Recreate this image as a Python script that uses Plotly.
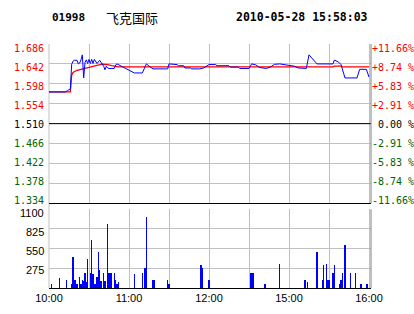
import plotly.graph_objects as go

# ---------------- data ----------------
stock_code = "01998"
stock_name = "飞克国际"
timestamp = "2010-05-28 15:58:03"
prev_close = 1.510

price_times = ["10:00", "10:12", "10:14", "10:16", "10:17", "10:18", "10:19", "10:21", "10:22", "10:23",
               "10:24", "10:25", "10:26", "10:27", "10:28", "10:29", "10:30", "10:31", "10:32", "10:33",
               "10:34", "10:35", "10:36", "10:38", "10:39", "10:40", "10:41", "10:42", "10:43", "10:44",
               "10:45", "10:49", "10:50", "10:51", "10:53", "10:55", "10:58", "11:04", "11:10", "11:13",
               "11:16", "11:18", "11:29", "11:30", "11:36", "11:37", "11:41", "11:42", "11:46", "11:47",
               "11:53", "11:56", "12:00", "12:05", "12:06", "12:15", "12:16", "12:22", "12:23", "12:30",
               "14:32", "14:35", "14:38", "14:43", "14:46", "14:49", "14:53", "14:57", "15:00", "15:04",
               "15:07", "15:13", "15:15", "15:21", "15:33", "15:34", "15:37", "15:39", "15:42", "15:51",
               "15:53", "15:58", "16:00"]
price_vals = [1.580, 1.580, 1.583, 1.587, 1.641, 1.648, 1.650, 1.650, 1.642, 1.644,
              1.651, 1.662, 1.611, 1.645, 1.651, 1.643, 1.652, 1.643, 1.652, 1.643,
              1.652, 1.648, 1.643, 1.650, 1.646, 1.640, 1.637, 1.629, 1.637, 1.633,
              1.632, 1.632, 1.640, 1.642, 1.639, 1.635, 1.631, 1.622, 1.622, 1.642,
              1.635, 1.631, 1.631, 1.642, 1.6405, 1.638, 1.638, 1.633, 1.633, 1.631,
              1.631, 1.633, 1.6405, 1.6405, 1.638, 1.638, 1.635, 1.635, 1.632, 1.632,
              1.642, 1.640, 1.634, 1.632, 1.635, 1.641, 1.642, 1.6405, 1.638, 1.637,
              1.633, 1.632, 1.662, 1.642, 1.642, 1.6505, 1.6464, 1.6405, 1.611, 1.611,
              1.630, 1.630, 1.613]

avg_times = ["10:00", "10:16", "10:17", "10:18", "10:21", "10:26", "10:31", "10:36", "10:40", "10:44",
             "10:47", "10:52", "15:33", "15:34", "15:39", "15:40", "16:00"]
avg_vals = [1.580, 1.580, 1.617, 1.623, 1.628, 1.632, 1.635, 1.639, 1.6413, 1.6405,
            1.638, 1.6355, 1.6355, 1.637, 1.637, 1.6355, 1.6355]

vol_times = ["10:02", "10:08", "10:13", "10:17", "10:18", "10:19", "10:20", "10:21", "10:23", "10:24",
             "10:25", "10:26", "10:27", "10:28", "10:29", "10:31", "10:32", "10:33", "10:34", "10:35",
             "10:36", "10:37", "10:38", "10:39", "10:41", "10:42", "10:44", "10:45", "10:46", "10:47",
             "10:49", "10:50", "10:51", "10:52", "11:04", "11:10", "11:12", "11:13", "11:18", "11:19",
             "11:29", "11:30", "11:54", "11:55", "12:00", "14:31", "14:32", "14:33", "14:42", "14:53",
             "15:12", "15:14", "15:21", "15:25", "15:26", "15:28", "15:29", "15:30", "15:33", "15:34",
             "15:38", "15:39", "15:40", "15:42", "15:46", "15:50", "15:54", "15:58", "15:59"]
vol_vals = [56, 139, 111, 56, 436, 111, 111, 46, 153, 56,
            111, 97, 209, 84, 408, 209, 673, 186, 56, 46,
            153, 506, 241, 97, 209, 97, 896, 209, 209, 209,
            209, 111, 56, 84, 186, 209, 269, 988, 111, 111,
            111, 56, 311, 269, 111, 209, 209, 209, 56, 334,
            111, 84, 506, 111, 311, 334, 111, 111, 209, 311,
            46, 111, 209, 599, 209, 209, 46, 46, 56]

price_ticks = [1.686, 1.642, 1.598, 1.554, 1.510, 1.466, 1.422, 1.378, 1.334]
pct_labels = ["+11.66%", "+8.74 %", "+5.83 %", "+2.91 %", "\u00a00.00 %", "-2.91 %", "-5.83 %", "-8.74 %", "-11.66%"]
vol_ticks = [1100, 825, 550, 275]
time_ticks = ["10:00", "10:30", "11:00", "11:30", "12:00", "12:30", "15:00", "15:30", "16:00"]
time_labels = ["10:00", "", "11:00", "", "12:00", "", "15:00", "", "16:00"]


def tmin(t):
    h, m = map(int, t.split(":"))
    v = h * 60 + m
    return v - 600 if v <= 750 else v - 600 - 120


# ---------------- style ----------------
RED = "#ff0000"
GREEN = "#006400"
BLUE = "#0000ff"
GRID = "#c0c0c0"
W, H = 414, 314
ML, MR, MT, MB = 49, 43, 44, 26
PW, PH = W - ML - MR, H - MT - MB


def px(x):
    return (x - ML) / PW


def py(y):
    return (H - MB - y) / PH


def col(v):
    return RED if v > prev_close + 1e-9 else (GREEN if v < prev_close - 1e-9 else "#000000")


fig = go.Figure()
# very thin bars: plotly expands them to exactly one crisp pixel
fig.add_trace(go.Bar(x=[tmin(t) for t in vol_times], y=vol_vals, width=0.05,
                     marker=dict(color=BLUE, line=dict(width=0)), xaxis="x", yaxis="y"))
fig.add_trace(go.Scatter(x=[tmin(t) for t in avg_times], y=avg_vals, mode="lines",
                         line=dict(color=RED, width=1.3), xaxis="x2", yaxis="y2"))
fig.add_trace(go.Scatter(x=[tmin(t) for t in price_times], y=price_vals, mode="lines",
                         line=dict(color=BLUE, width=1), xaxis="x2", yaxis="y2"))

xr = [0, PW / (40 / 30)]
tv = [tmin(t) for t in time_ticks]
mono = "DejaVu Sans Mono"
sans = "Liberation Sans, Arial"

annotations = [
    dict(text=f"<b>{stock_code}</b>", xref="paper", yref="paper", x=px(50), y=py(17),
         xanchor="left", yanchor="middle", showarrow=False,
         font=dict(family=mono, size=11, color="#000")),
    dict(text=stock_name, xref="paper", yref="paper", x=px(104), y=py(17),
         xanchor="left", yanchor="middle", showarrow=False,
         font=dict(family="Noto Sans CJK SC", size=13, color="#000")),
    dict(text=f"<b>{timestamp}</b>", xref="paper", yref="paper", x=px(370), y=py(17),
         xanchor="right", yanchor="middle", showarrow=False,
         font=dict(family=mono, size=11.5, color="#000")),
]
# price labels on both sides (slightly compressed spacing as in the original)
for i, (v, s) in enumerate(zip(price_ticks, pct_labels)):
    yc = py(48 + i * 19)
    annotations.append(dict(text=f"{v:.3f}", xref="paper", yref="paper", x=px(44.5), y=yc,
                            xanchor="right", yanchor="middle", showarrow=False, borderpad=0,
                            font=dict(family=mono, size=10, color=col(v))))
    annotations.append(dict(text=s, xref="paper", yref="paper", x=px(371), y=yc,
                            xanchor="left", yanchor="middle", showarrow=False, borderpad=0,
                            font=dict(family=mono, size=10, color=col(v))))
# volume labels
for i, v in enumerate(vol_ticks):
    annotations.append(dict(text=str(v), xref="paper", yref="paper", x=px(44.5), y=py(213 + i * 19),
                            xanchor="right", yanchor="middle", showarrow=False, borderpad=0,
                            font=dict(family=sans, size=11, color="#000")))

fig.update_layout(
    width=W, height=H, margin=dict(l=ML, r=MR, t=MT, b=MB, autoexpand=False),
    paper_bgcolor="white", plot_bgcolor="white", showlegend=False, bargap=0, bargroupgap=0,
    xaxis=dict(domain=[0, 1], anchor="y", range=xr, tickmode="array", tickvals=tv, ticktext=time_labels,
               showgrid=True, gridcolor=GRID, gridwidth=1, zeroline=False, showline=True, automargin=False,
               linecolor="#000000", linewidth=1, ticks="", tickfont=dict(family=sans, size=11, color="#000")),
    xaxis2=dict(domain=[0, 1], anchor="y2", range=xr, tickmode="array", tickvals=tv, showticklabels=False,
                showgrid=True, gridcolor=GRID, gridwidth=1, zeroline=False, showline=True, automargin=False,
                linecolor="#000000", linewidth=1, ticks=""),
    yaxis=dict(domain=[0, py(209.3)], anchor="x", range=[0, 1100], tickmode="array", tickvals=vol_ticks,
               showticklabels=False, showgrid=True, gridcolor=GRID, zeroline=False,
               automargin=False, ticks=""),
    yaxis2=dict(domain=[py(203.3), 1], anchor="x2", range=[price_ticks[-1], price_ticks[0]],
                tickmode="array", tickvals=price_ticks, showticklabels=False, showgrid=True, gridcolor=GRID,
                zeroline=False, ticks="", automargin=False),
    shapes=[
        dict(type="line", xref="paper", yref="y2", x0=0, x1=1, y0=prev_close, y1=prev_close,
             line=dict(color="#000000", width=1)),
        dict(type="line", xref="paper", yref="paper", x0=1, x1=1, y0=0, y1=py(209.3),
             line=dict(color="#808080", width=1)),
        dict(type="line", xref="paper", yref="paper", x0=1, x1=1, y0=py(203.3), y1=1,
             line=dict(color="#808080", width=1)),
        dict(type="line", xref="paper", yref="paper", x0=0, x1=0, y0=0, y1=1,
             line=dict(color=GRID, width=1), layer="below"),
    ],
    annotations=annotations,
)

fig.write_html("out.html")
